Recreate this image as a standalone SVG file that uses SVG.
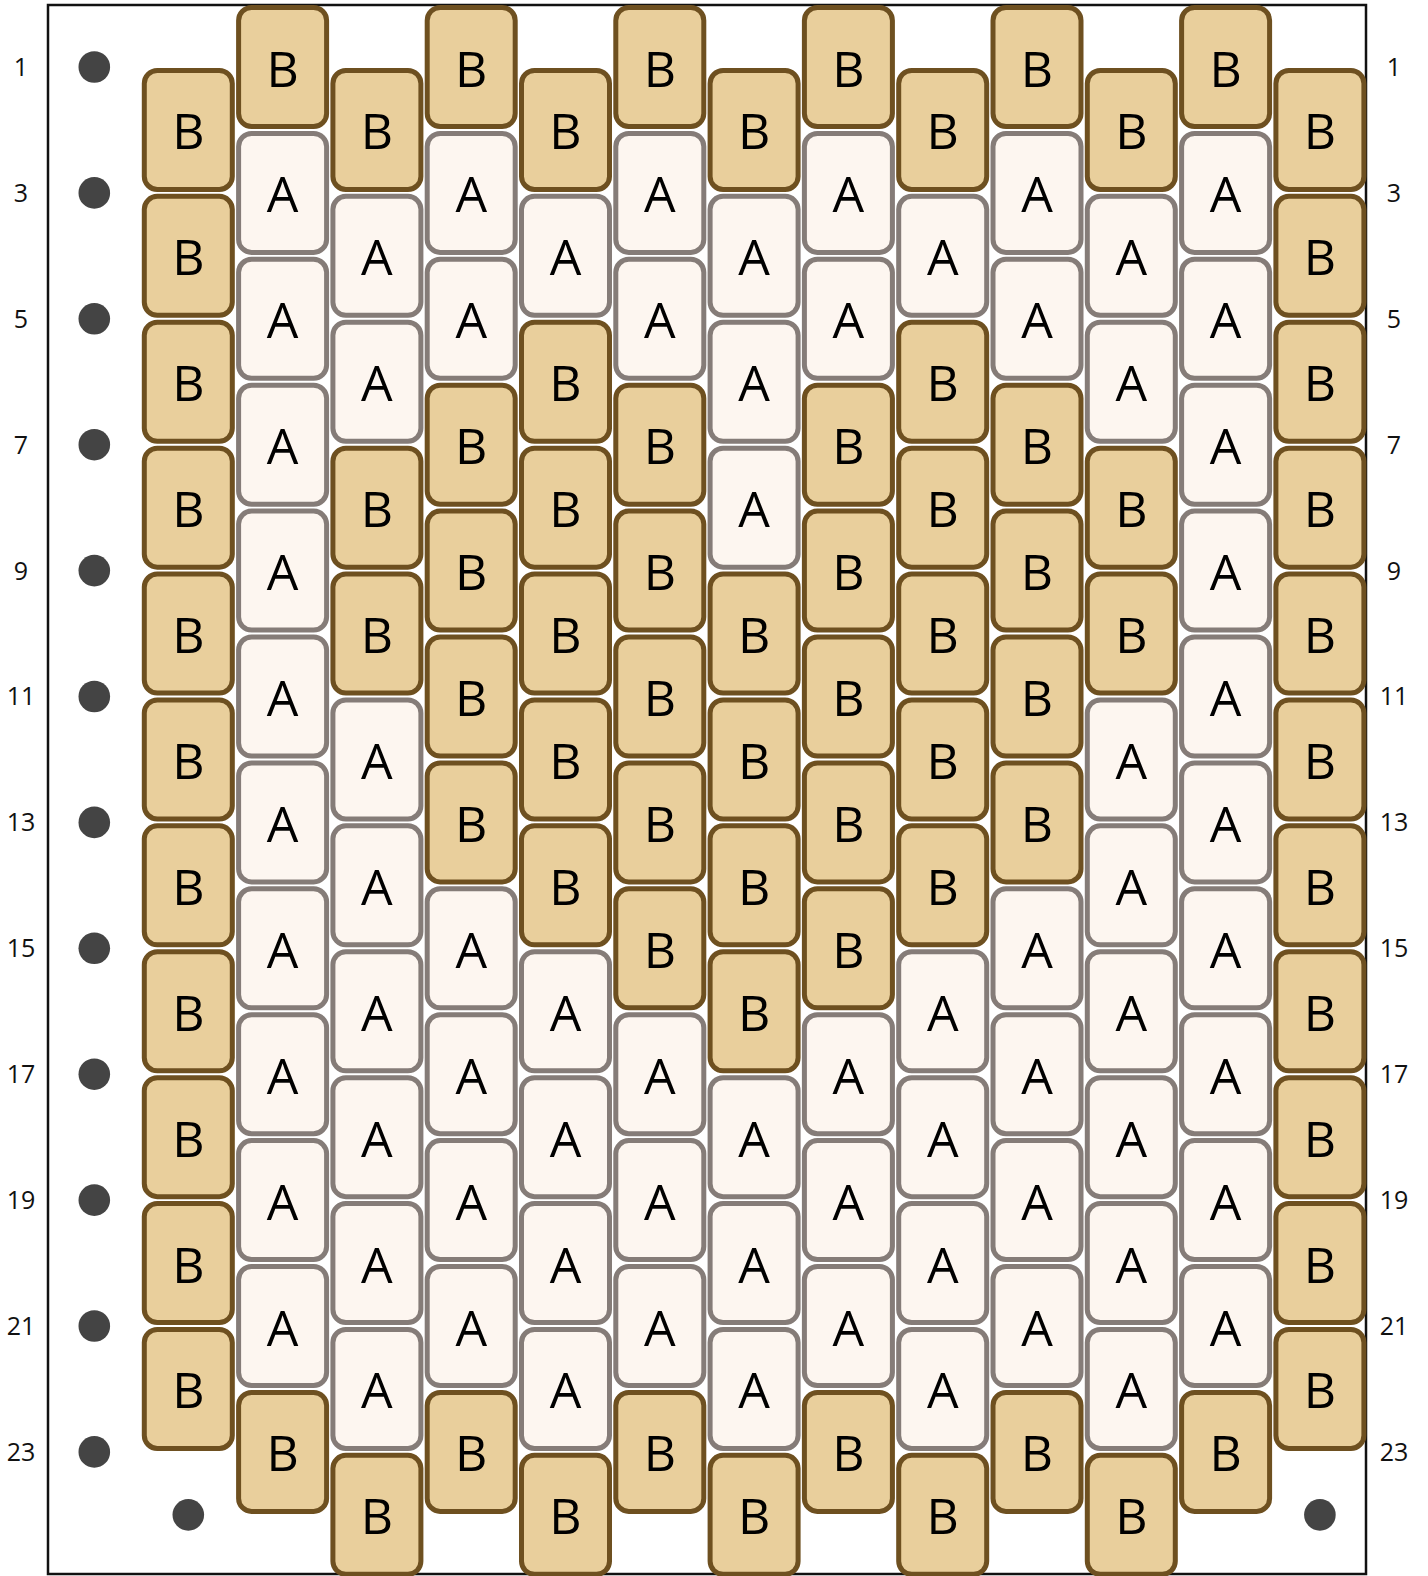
<svg xmlns="http://www.w3.org/2000/svg" width="1428" height="1576" viewBox="0 0 1428 1576">
<style>
.B use{fill:#E9CF9C;stroke:#6E5020;stroke-width:5}
.A use{fill:#FDF6F0;stroke:#857C78;stroke-width:5}
.bead text{font-family:"Open Sans","Noto Sans","DejaVu Sans",sans-serif;font-size:50px;fill:#000;stroke:none;text-anchor:middle}
.lbl{font-family:"Open Sans","Noto Sans","DejaVu Sans",sans-serif;font-size:25px;fill:#111;text-anchor:middle}
.dot{fill:#444}
</style>
<defs>
<rect id="r" x="-44" y="-59.5" width="88" height="119" rx="13"/>
</defs>
<rect x="48" y="5" width="1318" height="1569" fill="#fff" stroke="#111" stroke-width="2.5"/>
<g id="labels">
<text class="lbl" x="21" y="76">1</text><text class="lbl" x="1394" y="76">1</text>
<text class="lbl" x="21" y="202">3</text><text class="lbl" x="1394" y="202">3</text>
<text class="lbl" x="21" y="328">5</text><text class="lbl" x="1394" y="328">5</text>
<text class="lbl" x="21" y="454">7</text><text class="lbl" x="1394" y="454">7</text>
<text class="lbl" x="21" y="580">9</text><text class="lbl" x="1394" y="580">9</text>
<text class="lbl" x="21" y="705">11</text><text class="lbl" x="1394" y="705">11</text>
<text class="lbl" x="21" y="831">13</text><text class="lbl" x="1394" y="831">13</text>
<text class="lbl" x="21" y="957">15</text><text class="lbl" x="1394" y="957">15</text>
<text class="lbl" x="21" y="1083">17</text><text class="lbl" x="1394" y="1083">17</text>
<text class="lbl" x="21" y="1209">19</text><text class="lbl" x="1394" y="1209">19</text>
<text class="lbl" x="21" y="1335">21</text><text class="lbl" x="1394" y="1335">21</text>
<text class="lbl" x="21" y="1461">23</text><text class="lbl" x="1394" y="1461">23</text>
</g>
<g id="dots">
<circle class="dot" cx="94.3" cy="67" r="15.8"/>
<circle class="dot" cx="94.3" cy="192.9" r="15.8"/>
<circle class="dot" cx="94.3" cy="318.8" r="15.8"/>
<circle class="dot" cx="94.3" cy="444.7" r="15.8"/>
<circle class="dot" cx="94.3" cy="570.6" r="15.8"/>
<circle class="dot" cx="94.3" cy="696.5" r="15.8"/>
<circle class="dot" cx="94.3" cy="822.4" r="15.8"/>
<circle class="dot" cx="94.3" cy="948.3" r="15.8"/>
<circle class="dot" cx="94.3" cy="1074.2" r="15.8"/>
<circle class="dot" cx="94.3" cy="1200.1" r="15.8"/>
<circle class="dot" cx="94.3" cy="1326" r="15.8"/>
<circle class="dot" cx="94.3" cy="1451.9" r="15.8"/>
<circle class="dot" cx="188.3" cy="1514.85" r="15.8"/>
<circle class="dot" cx="1319.9" cy="1514.85" r="15.8"/>
</g>
<g id="col0">
<g id="c0r2" class="bead B" transform="translate(188.3,129.95)"><use href="#r"/><text y="19.5">B</text></g>
<g id="c0r4" class="bead B" transform="translate(188.3,255.85)"><use href="#r"/><text y="19.5">B</text></g>
<g id="c0r6" class="bead B" transform="translate(188.3,381.75)"><use href="#r"/><text y="19.5">B</text></g>
<g id="c0r8" class="bead B" transform="translate(188.3,507.65)"><use href="#r"/><text y="19.5">B</text></g>
<g id="c0r10" class="bead B" transform="translate(188.3,633.55)"><use href="#r"/><text y="19.5">B</text></g>
<g id="c0r12" class="bead B" transform="translate(188.3,759.45)"><use href="#r"/><text y="19.5">B</text></g>
<g id="c0r14" class="bead B" transform="translate(188.3,885.35)"><use href="#r"/><text y="19.5">B</text></g>
<g id="c0r16" class="bead B" transform="translate(188.3,1011.25)"><use href="#r"/><text y="19.5">B</text></g>
<g id="c0r18" class="bead B" transform="translate(188.3,1137.15)"><use href="#r"/><text y="19.5">B</text></g>
<g id="c0r20" class="bead B" transform="translate(188.3,1263.05)"><use href="#r"/><text y="19.5">B</text></g>
<g id="c0r22" class="bead B" transform="translate(188.3,1388.95)"><use href="#r"/><text y="19.5">B</text></g>
</g>
<g id="col1">
<g id="c1r1" class="bead B" transform="translate(282.6,67)"><use href="#r"/><text y="19.5">B</text></g>
<g id="c1r3" class="bead A" transform="translate(282.6,192.9)"><use href="#r"/><text y="19.5">A</text></g>
<g id="c1r5" class="bead A" transform="translate(282.6,318.8)"><use href="#r"/><text y="19.5">A</text></g>
<g id="c1r7" class="bead A" transform="translate(282.6,444.7)"><use href="#r"/><text y="19.5">A</text></g>
<g id="c1r9" class="bead A" transform="translate(282.6,570.6)"><use href="#r"/><text y="19.5">A</text></g>
<g id="c1r11" class="bead A" transform="translate(282.6,696.5)"><use href="#r"/><text y="19.5">A</text></g>
<g id="c1r13" class="bead A" transform="translate(282.6,822.4)"><use href="#r"/><text y="19.5">A</text></g>
<g id="c1r15" class="bead A" transform="translate(282.6,948.3)"><use href="#r"/><text y="19.5">A</text></g>
<g id="c1r17" class="bead A" transform="translate(282.6,1074.2)"><use href="#r"/><text y="19.5">A</text></g>
<g id="c1r19" class="bead A" transform="translate(282.6,1200.1)"><use href="#r"/><text y="19.5">A</text></g>
<g id="c1r21" class="bead A" transform="translate(282.6,1326)"><use href="#r"/><text y="19.5">A</text></g>
<g id="c1r23" class="bead B" transform="translate(282.6,1451.9)"><use href="#r"/><text y="19.5">B</text></g>
</g>
<g id="col2">
<g id="c2r2" class="bead B" transform="translate(376.9,129.95)"><use href="#r"/><text y="19.5">B</text></g>
<g id="c2r4" class="bead A" transform="translate(376.9,255.85)"><use href="#r"/><text y="19.5">A</text></g>
<g id="c2r6" class="bead A" transform="translate(376.9,381.75)"><use href="#r"/><text y="19.5">A</text></g>
<g id="c2r8" class="bead B" transform="translate(376.9,507.65)"><use href="#r"/><text y="19.5">B</text></g>
<g id="c2r10" class="bead B" transform="translate(376.9,633.55)"><use href="#r"/><text y="19.5">B</text></g>
<g id="c2r12" class="bead A" transform="translate(376.9,759.45)"><use href="#r"/><text y="19.5">A</text></g>
<g id="c2r14" class="bead A" transform="translate(376.9,885.35)"><use href="#r"/><text y="19.5">A</text></g>
<g id="c2r16" class="bead A" transform="translate(376.9,1011.25)"><use href="#r"/><text y="19.5">A</text></g>
<g id="c2r18" class="bead A" transform="translate(376.9,1137.15)"><use href="#r"/><text y="19.5">A</text></g>
<g id="c2r20" class="bead A" transform="translate(376.9,1263.05)"><use href="#r"/><text y="19.5">A</text></g>
<g id="c2r22" class="bead A" transform="translate(376.9,1388.95)"><use href="#r"/><text y="19.5">A</text></g>
<g id="c2r24" class="bead B" transform="translate(376.9,1514.85)"><use href="#r"/><text y="19.5">B</text></g>
</g>
<g id="col3">
<g id="c3r1" class="bead B" transform="translate(471.2,67)"><use href="#r"/><text y="19.5">B</text></g>
<g id="c3r3" class="bead A" transform="translate(471.2,192.9)"><use href="#r"/><text y="19.5">A</text></g>
<g id="c3r5" class="bead A" transform="translate(471.2,318.8)"><use href="#r"/><text y="19.5">A</text></g>
<g id="c3r7" class="bead B" transform="translate(471.2,444.7)"><use href="#r"/><text y="19.5">B</text></g>
<g id="c3r9" class="bead B" transform="translate(471.2,570.6)"><use href="#r"/><text y="19.5">B</text></g>
<g id="c3r11" class="bead B" transform="translate(471.2,696.5)"><use href="#r"/><text y="19.5">B</text></g>
<g id="c3r13" class="bead B" transform="translate(471.2,822.4)"><use href="#r"/><text y="19.5">B</text></g>
<g id="c3r15" class="bead A" transform="translate(471.2,948.3)"><use href="#r"/><text y="19.5">A</text></g>
<g id="c3r17" class="bead A" transform="translate(471.2,1074.2)"><use href="#r"/><text y="19.5">A</text></g>
<g id="c3r19" class="bead A" transform="translate(471.2,1200.1)"><use href="#r"/><text y="19.5">A</text></g>
<g id="c3r21" class="bead A" transform="translate(471.2,1326)"><use href="#r"/><text y="19.5">A</text></g>
<g id="c3r23" class="bead B" transform="translate(471.2,1451.9)"><use href="#r"/><text y="19.5">B</text></g>
</g>
<g id="col4">
<g id="c4r2" class="bead B" transform="translate(565.5,129.95)"><use href="#r"/><text y="19.5">B</text></g>
<g id="c4r4" class="bead A" transform="translate(565.5,255.85)"><use href="#r"/><text y="19.5">A</text></g>
<g id="c4r6" class="bead B" transform="translate(565.5,381.75)"><use href="#r"/><text y="19.5">B</text></g>
<g id="c4r8" class="bead B" transform="translate(565.5,507.65)"><use href="#r"/><text y="19.5">B</text></g>
<g id="c4r10" class="bead B" transform="translate(565.5,633.55)"><use href="#r"/><text y="19.5">B</text></g>
<g id="c4r12" class="bead B" transform="translate(565.5,759.45)"><use href="#r"/><text y="19.5">B</text></g>
<g id="c4r14" class="bead B" transform="translate(565.5,885.35)"><use href="#r"/><text y="19.5">B</text></g>
<g id="c4r16" class="bead A" transform="translate(565.5,1011.25)"><use href="#r"/><text y="19.5">A</text></g>
<g id="c4r18" class="bead A" transform="translate(565.5,1137.15)"><use href="#r"/><text y="19.5">A</text></g>
<g id="c4r20" class="bead A" transform="translate(565.5,1263.05)"><use href="#r"/><text y="19.5">A</text></g>
<g id="c4r22" class="bead A" transform="translate(565.5,1388.95)"><use href="#r"/><text y="19.5">A</text></g>
<g id="c4r24" class="bead B" transform="translate(565.5,1514.85)"><use href="#r"/><text y="19.5">B</text></g>
</g>
<g id="col5">
<g id="c5r1" class="bead B" transform="translate(659.8,67)"><use href="#r"/><text y="19.5">B</text></g>
<g id="c5r3" class="bead A" transform="translate(659.8,192.9)"><use href="#r"/><text y="19.5">A</text></g>
<g id="c5r5" class="bead A" transform="translate(659.8,318.8)"><use href="#r"/><text y="19.5">A</text></g>
<g id="c5r7" class="bead B" transform="translate(659.8,444.7)"><use href="#r"/><text y="19.5">B</text></g>
<g id="c5r9" class="bead B" transform="translate(659.8,570.6)"><use href="#r"/><text y="19.5">B</text></g>
<g id="c5r11" class="bead B" transform="translate(659.8,696.5)"><use href="#r"/><text y="19.5">B</text></g>
<g id="c5r13" class="bead B" transform="translate(659.8,822.4)"><use href="#r"/><text y="19.5">B</text></g>
<g id="c5r15" class="bead B" transform="translate(659.8,948.3)"><use href="#r"/><text y="19.5">B</text></g>
<g id="c5r17" class="bead A" transform="translate(659.8,1074.2)"><use href="#r"/><text y="19.5">A</text></g>
<g id="c5r19" class="bead A" transform="translate(659.8,1200.1)"><use href="#r"/><text y="19.5">A</text></g>
<g id="c5r21" class="bead A" transform="translate(659.8,1326)"><use href="#r"/><text y="19.5">A</text></g>
<g id="c5r23" class="bead B" transform="translate(659.8,1451.9)"><use href="#r"/><text y="19.5">B</text></g>
</g>
<g id="col6">
<g id="c6r2" class="bead B" transform="translate(754.1,129.95)"><use href="#r"/><text y="19.5">B</text></g>
<g id="c6r4" class="bead A" transform="translate(754.1,255.85)"><use href="#r"/><text y="19.5">A</text></g>
<g id="c6r6" class="bead A" transform="translate(754.1,381.75)"><use href="#r"/><text y="19.5">A</text></g>
<g id="c6r8" class="bead A" transform="translate(754.1,507.65)"><use href="#r"/><text y="19.5">A</text></g>
<g id="c6r10" class="bead B" transform="translate(754.1,633.55)"><use href="#r"/><text y="19.5">B</text></g>
<g id="c6r12" class="bead B" transform="translate(754.1,759.45)"><use href="#r"/><text y="19.5">B</text></g>
<g id="c6r14" class="bead B" transform="translate(754.1,885.35)"><use href="#r"/><text y="19.5">B</text></g>
<g id="c6r16" class="bead B" transform="translate(754.1,1011.25)"><use href="#r"/><text y="19.5">B</text></g>
<g id="c6r18" class="bead A" transform="translate(754.1,1137.15)"><use href="#r"/><text y="19.5">A</text></g>
<g id="c6r20" class="bead A" transform="translate(754.1,1263.05)"><use href="#r"/><text y="19.5">A</text></g>
<g id="c6r22" class="bead A" transform="translate(754.1,1388.95)"><use href="#r"/><text y="19.5">A</text></g>
<g id="c6r24" class="bead B" transform="translate(754.1,1514.85)"><use href="#r"/><text y="19.5">B</text></g>
</g>
<g id="col7">
<g id="c7r1" class="bead B" transform="translate(848.4,67)"><use href="#r"/><text y="19.5">B</text></g>
<g id="c7r3" class="bead A" transform="translate(848.4,192.9)"><use href="#r"/><text y="19.5">A</text></g>
<g id="c7r5" class="bead A" transform="translate(848.4,318.8)"><use href="#r"/><text y="19.5">A</text></g>
<g id="c7r7" class="bead B" transform="translate(848.4,444.7)"><use href="#r"/><text y="19.5">B</text></g>
<g id="c7r9" class="bead B" transform="translate(848.4,570.6)"><use href="#r"/><text y="19.5">B</text></g>
<g id="c7r11" class="bead B" transform="translate(848.4,696.5)"><use href="#r"/><text y="19.5">B</text></g>
<g id="c7r13" class="bead B" transform="translate(848.4,822.4)"><use href="#r"/><text y="19.5">B</text></g>
<g id="c7r15" class="bead B" transform="translate(848.4,948.3)"><use href="#r"/><text y="19.5">B</text></g>
<g id="c7r17" class="bead A" transform="translate(848.4,1074.2)"><use href="#r"/><text y="19.5">A</text></g>
<g id="c7r19" class="bead A" transform="translate(848.4,1200.1)"><use href="#r"/><text y="19.5">A</text></g>
<g id="c7r21" class="bead A" transform="translate(848.4,1326)"><use href="#r"/><text y="19.5">A</text></g>
<g id="c7r23" class="bead B" transform="translate(848.4,1451.9)"><use href="#r"/><text y="19.5">B</text></g>
</g>
<g id="col8">
<g id="c8r2" class="bead B" transform="translate(942.7,129.95)"><use href="#r"/><text y="19.5">B</text></g>
<g id="c8r4" class="bead A" transform="translate(942.7,255.85)"><use href="#r"/><text y="19.5">A</text></g>
<g id="c8r6" class="bead B" transform="translate(942.7,381.75)"><use href="#r"/><text y="19.5">B</text></g>
<g id="c8r8" class="bead B" transform="translate(942.7,507.65)"><use href="#r"/><text y="19.5">B</text></g>
<g id="c8r10" class="bead B" transform="translate(942.7,633.55)"><use href="#r"/><text y="19.5">B</text></g>
<g id="c8r12" class="bead B" transform="translate(942.7,759.45)"><use href="#r"/><text y="19.5">B</text></g>
<g id="c8r14" class="bead B" transform="translate(942.7,885.35)"><use href="#r"/><text y="19.5">B</text></g>
<g id="c8r16" class="bead A" transform="translate(942.7,1011.25)"><use href="#r"/><text y="19.5">A</text></g>
<g id="c8r18" class="bead A" transform="translate(942.7,1137.15)"><use href="#r"/><text y="19.5">A</text></g>
<g id="c8r20" class="bead A" transform="translate(942.7,1263.05)"><use href="#r"/><text y="19.5">A</text></g>
<g id="c8r22" class="bead A" transform="translate(942.7,1388.95)"><use href="#r"/><text y="19.5">A</text></g>
<g id="c8r24" class="bead B" transform="translate(942.7,1514.85)"><use href="#r"/><text y="19.5">B</text></g>
</g>
<g id="col9">
<g id="c9r1" class="bead B" transform="translate(1037,67)"><use href="#r"/><text y="19.5">B</text></g>
<g id="c9r3" class="bead A" transform="translate(1037,192.9)"><use href="#r"/><text y="19.5">A</text></g>
<g id="c9r5" class="bead A" transform="translate(1037,318.8)"><use href="#r"/><text y="19.5">A</text></g>
<g id="c9r7" class="bead B" transform="translate(1037,444.7)"><use href="#r"/><text y="19.5">B</text></g>
<g id="c9r9" class="bead B" transform="translate(1037,570.6)"><use href="#r"/><text y="19.5">B</text></g>
<g id="c9r11" class="bead B" transform="translate(1037,696.5)"><use href="#r"/><text y="19.5">B</text></g>
<g id="c9r13" class="bead B" transform="translate(1037,822.4)"><use href="#r"/><text y="19.5">B</text></g>
<g id="c9r15" class="bead A" transform="translate(1037,948.3)"><use href="#r"/><text y="19.5">A</text></g>
<g id="c9r17" class="bead A" transform="translate(1037,1074.2)"><use href="#r"/><text y="19.5">A</text></g>
<g id="c9r19" class="bead A" transform="translate(1037,1200.1)"><use href="#r"/><text y="19.5">A</text></g>
<g id="c9r21" class="bead A" transform="translate(1037,1326)"><use href="#r"/><text y="19.5">A</text></g>
<g id="c9r23" class="bead B" transform="translate(1037,1451.9)"><use href="#r"/><text y="19.5">B</text></g>
</g>
<g id="col10">
<g id="c10r2" class="bead B" transform="translate(1131.3,129.95)"><use href="#r"/><text y="19.5">B</text></g>
<g id="c10r4" class="bead A" transform="translate(1131.3,255.85)"><use href="#r"/><text y="19.5">A</text></g>
<g id="c10r6" class="bead A" transform="translate(1131.3,381.75)"><use href="#r"/><text y="19.5">A</text></g>
<g id="c10r8" class="bead B" transform="translate(1131.3,507.65)"><use href="#r"/><text y="19.5">B</text></g>
<g id="c10r10" class="bead B" transform="translate(1131.3,633.55)"><use href="#r"/><text y="19.5">B</text></g>
<g id="c10r12" class="bead A" transform="translate(1131.3,759.45)"><use href="#r"/><text y="19.5">A</text></g>
<g id="c10r14" class="bead A" transform="translate(1131.3,885.35)"><use href="#r"/><text y="19.5">A</text></g>
<g id="c10r16" class="bead A" transform="translate(1131.3,1011.25)"><use href="#r"/><text y="19.5">A</text></g>
<g id="c10r18" class="bead A" transform="translate(1131.3,1137.15)"><use href="#r"/><text y="19.5">A</text></g>
<g id="c10r20" class="bead A" transform="translate(1131.3,1263.05)"><use href="#r"/><text y="19.5">A</text></g>
<g id="c10r22" class="bead A" transform="translate(1131.3,1388.95)"><use href="#r"/><text y="19.5">A</text></g>
<g id="c10r24" class="bead B" transform="translate(1131.3,1514.85)"><use href="#r"/><text y="19.5">B</text></g>
</g>
<g id="col11">
<g id="c11r1" class="bead B" transform="translate(1225.6,67)"><use href="#r"/><text y="19.5">B</text></g>
<g id="c11r3" class="bead A" transform="translate(1225.6,192.9)"><use href="#r"/><text y="19.5">A</text></g>
<g id="c11r5" class="bead A" transform="translate(1225.6,318.8)"><use href="#r"/><text y="19.5">A</text></g>
<g id="c11r7" class="bead A" transform="translate(1225.6,444.7)"><use href="#r"/><text y="19.5">A</text></g>
<g id="c11r9" class="bead A" transform="translate(1225.6,570.6)"><use href="#r"/><text y="19.5">A</text></g>
<g id="c11r11" class="bead A" transform="translate(1225.6,696.5)"><use href="#r"/><text y="19.5">A</text></g>
<g id="c11r13" class="bead A" transform="translate(1225.6,822.4)"><use href="#r"/><text y="19.5">A</text></g>
<g id="c11r15" class="bead A" transform="translate(1225.6,948.3)"><use href="#r"/><text y="19.5">A</text></g>
<g id="c11r17" class="bead A" transform="translate(1225.6,1074.2)"><use href="#r"/><text y="19.5">A</text></g>
<g id="c11r19" class="bead A" transform="translate(1225.6,1200.1)"><use href="#r"/><text y="19.5">A</text></g>
<g id="c11r21" class="bead A" transform="translate(1225.6,1326)"><use href="#r"/><text y="19.5">A</text></g>
<g id="c11r23" class="bead B" transform="translate(1225.6,1451.9)"><use href="#r"/><text y="19.5">B</text></g>
</g>
<g id="col12">
<g id="c12r2" class="bead B" transform="translate(1319.9,129.95)"><use href="#r"/><text y="19.5">B</text></g>
<g id="c12r4" class="bead B" transform="translate(1319.9,255.85)"><use href="#r"/><text y="19.5">B</text></g>
<g id="c12r6" class="bead B" transform="translate(1319.9,381.75)"><use href="#r"/><text y="19.5">B</text></g>
<g id="c12r8" class="bead B" transform="translate(1319.9,507.65)"><use href="#r"/><text y="19.5">B</text></g>
<g id="c12r10" class="bead B" transform="translate(1319.9,633.55)"><use href="#r"/><text y="19.5">B</text></g>
<g id="c12r12" class="bead B" transform="translate(1319.9,759.45)"><use href="#r"/><text y="19.5">B</text></g>
<g id="c12r14" class="bead B" transform="translate(1319.9,885.35)"><use href="#r"/><text y="19.5">B</text></g>
<g id="c12r16" class="bead B" transform="translate(1319.9,1011.25)"><use href="#r"/><text y="19.5">B</text></g>
<g id="c12r18" class="bead B" transform="translate(1319.9,1137.15)"><use href="#r"/><text y="19.5">B</text></g>
<g id="c12r20" class="bead B" transform="translate(1319.9,1263.05)"><use href="#r"/><text y="19.5">B</text></g>
<g id="c12r22" class="bead B" transform="translate(1319.9,1388.95)"><use href="#r"/><text y="19.5">B</text></g>
</g>
</svg>
